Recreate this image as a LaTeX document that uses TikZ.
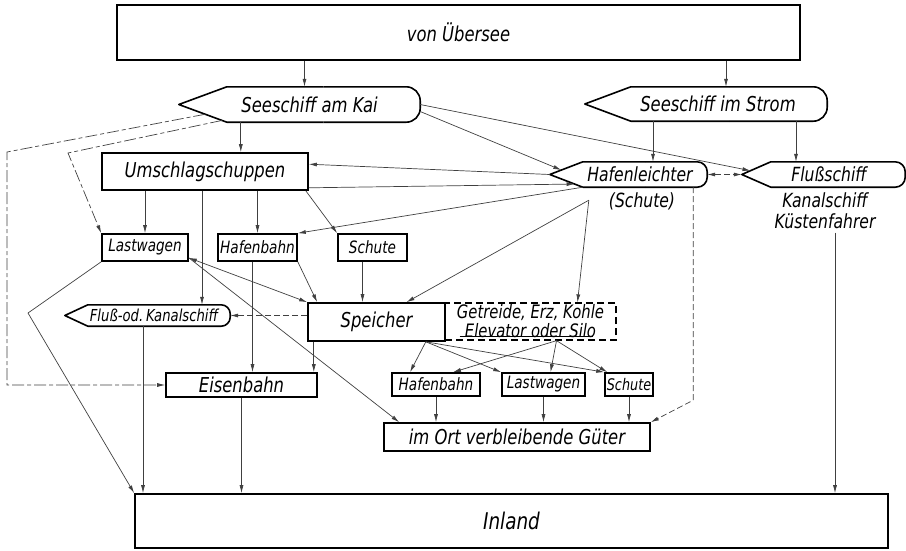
\documentclass[tikz,border=0pt]{standalone}
\usepackage{fontspec}
\setmainfont{DejaVu Sans}[FakeStretch=0.8]
\usetikzlibrary{calc,arrows.meta}

\tikzset{
  box/.style={draw, line width=1.6pt, inner sep=0pt},
  body/.style={inner sep=0pt},
  shipline/.style={line width=1.6pt, line join=round},
  txtbig/.style={font=\fontsize{20.5}{22}\selectfont\itshape},
  txtmid/.style={font=\fontsize{19.5}{21}\selectfont\itshape},
  txtsmall/.style={font=\fontsize{17}{19}\selectfont\itshape},
  txttiny/.style={font=\fontsize{16.5}{18}\selectfont\itshape},
  arr/.style={draw=black!75, line width=0.7pt, -{Latex[length=8pt,width=4pt]}},
  both/.style={{Latex[length=8pt,width=4pt]}-{Latex[length=8pt,width=4pt]}},
  dsharr/.style={arr, dash pattern=on 6pt off 3pt},
  dshdot/.style={arr, dash pattern=on 12pt off 3pt on 4pt off 3pt}
}

% ship outline: node, depth of the bow, radius of the stern
\newcommand\drawship[3]{%
  \coordinate (#1tip) at ([xshift=-#2pt]#1.west);
  \draw[shipline] (#1.north) -- (#1.north west) -- (#1tip) -- (#1.south west) -- (#1.south);
  \draw[shipline,rounded corners=#3pt] (#1.north) -- (#1.north east) -- (#1.south east) -- (#1.south);
}

\begin{document}
\begin{tikzpicture}[x=1pt,y=-1pt]
\useasboundingbox (0,0) rectangle (906,550);

% boxes and ships
\node[box,txtbig,minimum width=683pt,minimum height=55pt] (ueb) at (458.5,32.5) {von Übersee};
\node[body,txtbig,minimum width=193pt,minimum height=35pt] (kai) at (323.5,104.5) {Seeschiff am Kai\hspace*{28pt}};
\drawship{kai}{48}{14}
\node[body,txtbig,minimum width=196pt,minimum height=34pt] (strom) at (729,104) {Seeschiff im Strom\hspace*{22pt}};
\drawship{strom}{46}{14}
\node[box,txtbig,minimum width=206pt,minimum height=37pt] (umschlag) at (205,171.5) {Umschlagschuppen};
\node[body,txtmid,minimum width=124pt,minimum height=25pt] (leichter) at (645,174.5) {Hafenleichter\hspace*{10pt}};
\drawship{leichter}{33}{10}
\node[txtmid] (leichterlbl) at (642,201) {(Schute)};
\node[body,txtmid,minimum width=134pt,minimum height=25pt] (fluss) at (838,174.5) {Flußschiff\hspace*{18pt}};
\drawship{fluss}{29}{10}
\node[txtmid,align=center] (flusslbl) at (825,211) {Kanalschiff\\Küstenfahrer};
\node[box,txtsmall,minimum width=86pt,minimum height=27pt] (lkwA) at (145,247.5) {Lastwagen};
\node[box,txtsmall,minimum width=79pt,minimum height=27pt] (bahnA) at (257.5,247.5) {Hafenbahn};
\node[box,txtsmall,minimum width=69pt,minimum height=27pt] (schuteA) at (372.5,247.5) {Schute};
\node[body,txttiny,minimum width=142pt,minimum height=21pt] (flussod) at (159,315.5) {Fluß-od.\,Kanalschiff\hspace*{10pt}};
\drawship{flussod}{23}{9}
\node[box,txtbig,minimum width=137pt,minimum height=38pt] (speicher) at (376.5,322) {Speicher};
\node[box,dash pattern=on 7pt off 4pt,line width=1.3pt,font=\fontsize{18.5}{19}\selectfont\itshape,align=center,minimum width=171pt,minimum height=37pt] (silo) at (530.5,321.5) {Getreide, Erz, Kohle\\Elevator oder Silo};
\draw[line width=0.8pt] ([xshift=-71pt,yshift=4pt]silo.south) -- ([xshift=62pt,yshift=4pt]silo.south);
\node[box,txtbig,minimum width=151pt,minimum height=24pt] (eisenbahn) at (241.5,385) {Eisenbahn};
\node[box,txtsmall,minimum width=88pt,minimum height=23pt] (bahnB) at (436,384.5) {Hafenbahn};
\node[box,txtsmall,minimum width=83pt,minimum height=23pt] (lkwB) at (543.5,384.5) {Lastwagen};
\node[box,txtsmall,font=\fontsize{16}{18}\selectfont\itshape,minimum width=48pt,minimum height=23pt] (schuteB) at (629,384.5) {Schute};
\node[box,txtbig,minimum width=266pt,minimum height=28pt] (ort) at (517,437) {im Ort verbleibende Güter};
\node[box,font=\fontsize{23}{25}\selectfont\itshape,minimum width=753pt,minimum height=54pt] (inland) at (511.5,521) {Inland};

% bends and fan points
\coordinate (kaiin) at ([xshift=-19pt]kai.north);
\coordinate (stromin) at ([xshift=-3pt]strom.north);
\coordinate (kaiout) at ([xshift=14pt]kai.south west);
\coordinate (stromL) at ([xshift=8pt]leichter.north);
\coordinate (stromF) at ([xshift=-42pt]fluss.north);
\coordinate (lfan) at ([xshift=6pt,yshift=-13pt]leichter.south west);
\coordinate (ldown) at ([xshift=-14pt]leichter.south east);
\coordinate (lbend) at ([yshift=-213pt]ldown);
\coordinate (fdown) at ([xshift=10pt]flusslbl.south);
\coordinate (bendA) at (7,152);
\coordinate (bendB) at (68,153);
\coordinate (bendC) at (28,313);
\coordinate (uf) at ([xshift=43pt]flussod.north);
\coordinate (fi) at ([xshift=-16pt]flussod.south);
\coordinate (be) at ([xshift=-5pt]bahnA.south);
\coordinate (ss) at ([xshift=-10pt]schuteA.south);
\coordinate (se) at ([xshift=-4pt]eisenbahn.north east);
\coordinate (sfan) at ([xshift=-20pt]speicher.south east);
\coordinate (gfan) at ([xshift=26pt]silo.south);

% from overseas and the sea ships
\draw[arr] (ueb.south -| kaiin) -- (kaiin);
\draw[arr] (ueb.south -| stromin) -- (stromin);
\draw[arr] (kaiout) -- (kaiout |- umschlag.north);
\draw[arr] ([yshift=-7pt]kai.east) -- ($(leichtertip)!0.35!(leichter.north west)$);
\draw[arr] (kai.east) -- ($(flusstip)!0.3!(fluss.north west)$);
\draw[dshdot] ($(kaitip)!0.55!(kai.south west)$) -- (bendA) |- (eisenbahn.west);
\draw[dshdot] ($(kaitip)!0.9!(kai.south west)$) -- (bendB) -- (lkwA.north west);
\draw[arr] (strom.south -| stromL) -- (stromL);
\draw[arr] (strom.south -| stromF) -- (stromF);

% lighter and river ships
\draw[dsharr,both] (leichter.east) -- (flusstip);
\draw[arr] (leichtertip) -- ([yshift=-12pt]umschlag.north east);
\draw[arr] ([yshift=3pt]umschlag.south east) -- ($(leichtertip)!0.75!(leichter.south west)$);
\draw[arr] (leichter.south west) -- (bahnA.north east);
\draw[arr] (lfan) -- ([xshift=30pt]speicher.north);
\draw[arr] (lfan) -- ([xshift=47pt]silo.north);
\draw[dsharr] (ldown) -- (lbend) -- (ort.north east);
\draw[arr] (fdown) -- (fdown |- inland.north);

% shed
\draw[arr] (umschlag.south -| lkwA.north) -- (lkwA.north);
\draw[arr] (umschlag.south -| bahnA.north) -- (bahnA.north);
\draw[arr] (umschlag.south -| uf) -- (uf);
\draw[arr] ([xshift=-3pt]umschlag.south east) -- (schuteA.north west);

% lorry, harbour railway, barge
\draw[arr] (lkwA.south west) -- (bendC) -- (inland.north west);
\draw[arr,both] ([yshift=4pt]lkwA.south east) -- (speicher.north west);
\draw[arr] ([yshift=4pt]lkwA.south east) -- ([xshift=16pt]ort.north west);
\draw[arr] (be) -- (be |- eisenbahn.north);
\draw[arr] (bahnA.south east) -- ([xshift=10pt]speicher.north west);
\draw[arr] (ss) -- (ss |- speicher.north);
\draw[arr] (fi) -- (fi |- inland.north);

% warehouse and silo
\draw[dsharr] (speicher.west |- flussod.east) -- (flussod.east);
\draw[arr] (speicher.south -| se) -- (se);
\draw[arr] (eisenbahn.south) -- (eisenbahn.south |- inland.north);
\draw[arr] (sfan) -- ([xshift=-26pt]bahnB.north);
\draw[arr] (sfan) -- (lkwB.north west);
\draw[arr] (sfan) -- (schuteB.north west);
\draw[arr] (gfan) -- ([xshift=17pt]bahnB.north);
\draw[arr] (gfan) -- ([xshift=7pt]lkwB.north);
\draw[arr] (gfan) -- ([xshift=3pt]schuteB.north west);

% local goods
\draw[arr] (bahnB.south) -- (bahnB.south |- ort.north);
\draw[arr] (lkwB.south) -- (lkwB.south |- ort.north);
\draw[arr] (schuteB.south) -- (schuteB.south |- ort.north);
\end{tikzpicture}
\end{document}
